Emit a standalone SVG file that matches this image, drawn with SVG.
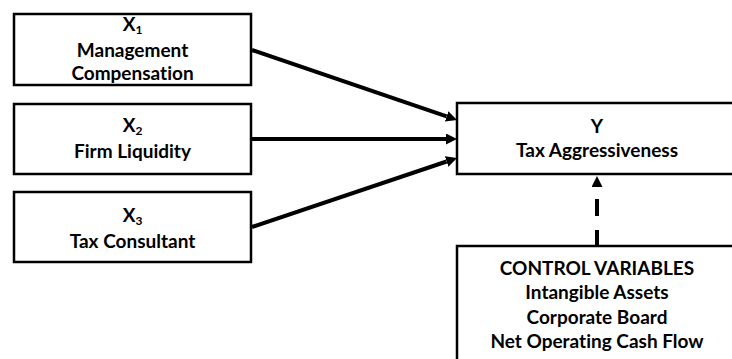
<svg xmlns="http://www.w3.org/2000/svg" width="732" height="359" viewBox="0 0 732 359">
<defs>
<style>
.box{fill:#fff;stroke:#000;stroke-width:2.5}
.t{font-family:Lato,"Liberation Sans",sans-serif;font-weight:bold;font-size:19px;fill:#000;text-anchor:middle;font-variant-ligatures:none}
.sub{font-size:12px}
.ln{stroke:#000;stroke-width:4;fill:none}
</style>
<marker id="ah" markerUnits="userSpaceOnUse" markerWidth="12" markerHeight="12" refX="0" refY="5.5" orient="auto">
<path d="M0,0 L11,5.5 L0,11 z" fill="#000"/>
</marker>
</defs>
<rect width="732" height="359" fill="#fff"/>
<g id="connectors">
<line class="ln" x1="252" y1="50" x2="446.6" y2="116.4" marker-end="url(#ah)"/>
<line class="ln" x1="251" y1="139" x2="446" y2="139" marker-end="url(#ah)"/>
<line class="ln" x1="252" y1="227" x2="446.6" y2="161.5" marker-end="url(#ah)"/>
<line class="ln" x1="597" y1="247" x2="597" y2="187" stroke-dasharray="17 14" marker-end="url(#ah)"/>
</g>
<g id="x1">
<rect class="box" x="14" y="14" width="237" height="71"/>
<text class="t" x="132.5" y="31">X<tspan class="sub" dy="3">1</tspan></text>
<text class="t" x="132.5" y="57">Management</text>
<text class="t" x="132.5" y="80">Compensation</text>
</g>
<g id="x2">
<rect class="box" x="14" y="104" width="237" height="70"/>
<text class="t" x="132.5" y="132">X<tspan class="sub" dy="3">2</tspan></text>
<text class="t" x="132.5" y="158">Firm Liquidity</text>
</g>
<g id="x3">
<rect class="box" x="14" y="192" width="237" height="70"/>
<text class="t" x="132.5" y="222">X<tspan class="sub" dy="3">3</tspan></text>
<text class="t" x="132.5" y="248">Tax Consultant</text>
</g>
<g id="y">
<rect class="box" x="457" y="103" width="290" height="71"/>
<text class="t" x="597" y="133">Y</text>
<text class="t" x="597" y="157">Tax Aggressiveness</text>
</g>
<g id="controls">
<rect class="box" x="457" y="246" width="290" height="130"/>
<text class="t" x="597" y="275">CONTROL VARIABLES</text>
<text class="t" x="597" y="299">Intangible Assets</text>
<text class="t" x="597" y="324">Corporate Board</text>
<text class="t" x="597" y="348">Net Operating Cash Flow</text>
</g>
</svg>
